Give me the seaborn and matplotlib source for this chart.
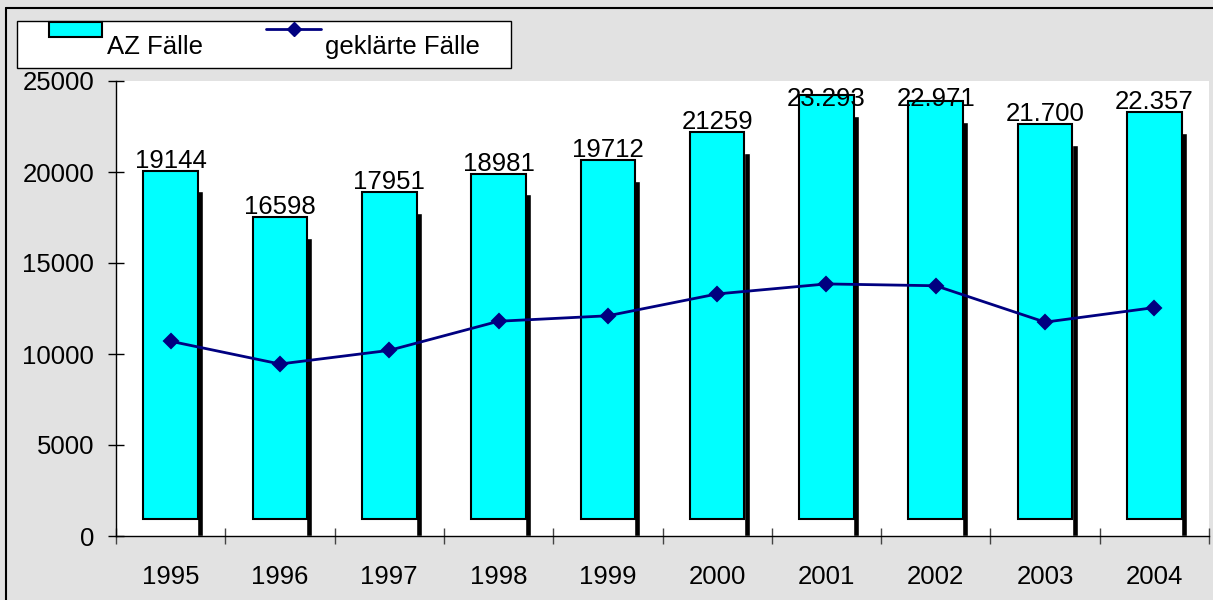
import numpy as np
import seaborn as sns
import matplotlib.pyplot as plt
from matplotlib.patches import Rectangle
from matplotlib.lines import Line2D

# data
years = ["1995", "1996", "1997", "1998", "1999", "2000", "2001", "2002", "2003", "2004"]
az_faelle = [19144, 16598, 17951, 18981, 19712, 21259, 23293, 22971, 21700, 22357]
az_labels = ["19144", "16598", "17951", "18981", "19712", "21259",
             "23.293", "22.971", "21.700", "22.357"]
geklaerte = [10700, 9450, 10200, 11800, 12100, 13300, 13850, 13750, 11750, 12550]

CYAN = "#00FFFF"
NAVY = "#000080"
BG = "#e2e2e2"
DEPTH = 930      # 3d look: front face lifted by this much
FS = 18.5

sns.set_style("white", {"text.color": "black", "xtick.color": "black",
                        "ytick.color": "black", "axes.labelcolor": "black"})
plt.rcParams["font.family"] = ["Liberation Sans", "DejaVu Sans"]

W, H = 1213, 600
fig = plt.figure(figsize=(W / 100, H / 100), dpi=100, facecolor=BG)
ax = fig.add_axes([116 / W, 1 - 536 / H, (1209 - 116) / W, (536 - 81) / H])
ax.set_facecolor("white")

# black side strip of each column
pos = np.arange(len(years))
ax.bar(pos + 0.27, np.array(az_faelle) - 200, width=0.055, color="black", zorder=1)

# front face of the columns
sns.barplot(x=years, y=az_faelle, color=CYAN, edgecolor="black", linewidth=1.5,
            width=0.5, bottom=DEPTH, saturation=1, ax=ax, zorder=2)

sns.pointplot(x=years, y=geklaerte, color=NAVY, markers="D", markersize=7,
              linewidth=2, errorbar=None, ax=ax, zorder=4)

# value labels above the columns, kept inside the plot area
for i, (v, lab) in enumerate(zip(az_faelle, az_labels)):
    yb = min(v + DEPTH + 165, 23600)
    ax.text(i, yb, lab, ha="center", va="baseline", fontsize=FS, color="black", zorder=5)

ax.set_xlim(-0.5, len(years) - 0.5)
ax.set_ylim(0, 25000)
ax.set_yticks(range(0, 25001, 5000))
ax.set_xticks(np.arange(-0.5, len(years), 1), minor=True)
ax.set_xlabel("")
ax.set_ylabel("")

ax.tick_params(axis="y", left=True, direction="inout", length=11.5, width=1,
               color="black", labelcolor="black", pad=10, labelsize=FS)
ax.tick_params(axis="x", which="major", bottom=True, length=0, pad=21,
               labelsize=FS, labelcolor="black")
ax.tick_params(axis="x", which="minor", bottom=True, direction="inout", length=11.5,
               width=1, color="#444444")

for s in ["top", "right"]:
    ax.spines[s].set_visible(False)
for s in ["left", "bottom"]:
    ax.spines[s].set_color("black")
    ax.spines[s].set_linewidth(1)

# legend drawn like the excel one
fig.add_artist(Rectangle((17 / W, 1 - 68 / H), (511 - 17) / W, (68 - 21) / H,
                         transform=fig.transFigure, facecolor="white",
                         edgecolor="black", linewidth=1))
fig.add_artist(Rectangle((49 / W, 1 - 37 / H), 53 / W, 15 / H,
                         transform=fig.transFigure, facecolor=CYAN,
                         edgecolor="black", linewidth=1.5))
fig.text(107 / W, 1 - 54 / H, "AZ Fälle", fontsize=FS, va="baseline", color="black")
fig.add_artist(Line2D([266 / W, 321 / W], [1 - 29 / H] * 2, color=NAVY, linewidth=2,
                      transform=fig.transFigure))
fig.add_artist(Line2D([293.5 / W], [1 - 29 / H], color=NAVY, marker="D", markersize=7,
                      transform=fig.transFigure))
fig.text(325 / W, 1 - 54 / H, "geklärte Fälle", fontsize=FS, va="baseline", color="black")

# frame lines of the chart area
fig.add_artist(Line2D([6 / W, 1], [1 - 8 / H] * 2, color="black", linewidth=1.5,
                      transform=fig.transFigure))
fig.add_artist(Line2D([6 / W] * 2, [0, 1 - 8 / H], color="black", linewidth=1.5,
                      transform=fig.transFigure))

fig.savefig("out.png", dpi=100, facecolor=fig.get_facecolor())
